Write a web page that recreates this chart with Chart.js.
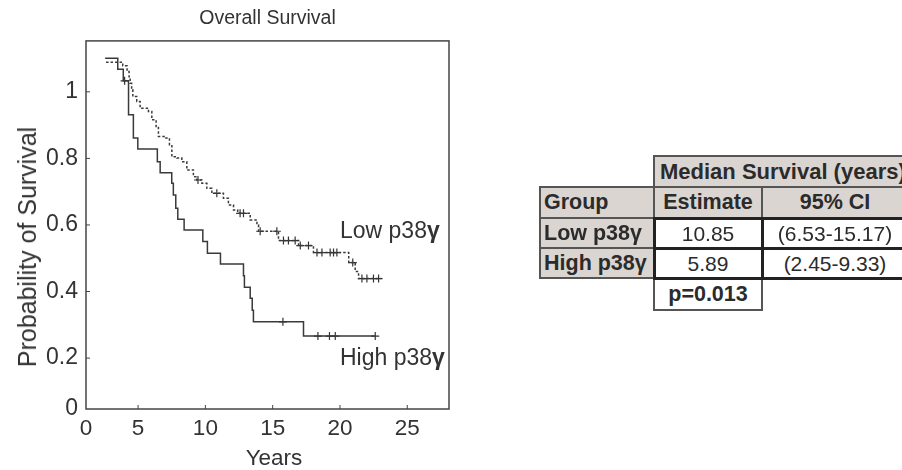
<!DOCTYPE html>
<html>
<head>
<meta charset="utf-8">
<script src="https://cdn.jsdelivr.net/npm/chart.js@4.4.1/dist/chart.umd.min.js"></script>
<style>
  html, body { margin: 0; padding: 0; background: #fff; width: 902px; height: 470px; overflow: hidden; }
  body { position: relative; font-family: "Liberation Sans", Arial, sans-serif; color: #2b2b2b; }
  #wrap { position: absolute; left: 0; top: 0; width: 460px; height: 470px; }
  .lbl { position: absolute; font-size: 23px; line-height: 26px; white-space: nowrap; color: #333; }
  .ytitle { position: absolute; left: 27px; top: 247px; font-size: 25px; line-height: 28px; white-space: nowrap; color: #333;
            transform: translate(-50%, -50%) rotate(-90deg); }
  .xtitle { position: absolute; left: 274px; top: 458px; font-size: 22.5px; line-height: 26px; white-space: nowrap; color: #333;
            transform: translate(-50%, -50%); }
  table.ms { position: absolute; left: 539px; top: 155px; width: 374px; border-collapse: collapse; table-layout: fixed; font-size: 21px; }
  table.ms td { padding: 0 3px; white-space: nowrap; overflow: hidden; border: 2px solid #555; line-height: 25px; }
  table.ms td.g { background: #dbd5d1; font-weight: bold; font-size: 21.5px; }
  table.ms td.none { border: none; background: transparent; }
  table.ms td.c { text-align: center; }
  table.ms td.d { background: #fff; border: 3px solid #222; text-align: center; }
  table.ms td.p { background: #fff; font-weight: bold; font-size: 21.5px; text-align: center; border: 2px solid #555; }
</style>
</head>
<body>
<div id="wrap"><canvas id="km" width="460" height="470"></canvas></div>

<div class="ytitle">Probability of Survival</div>
<div class="xtitle">Years</div>
<div class="lbl" style="left:340px; top:217px;">Low p38<b>γ</b></div>
<div class="lbl" style="left:340px; top:344px;">High p38<b>γ</b></div>

<table class="ms">
  <colgroup><col style="width:114px"><col style="width:108px"><col style="width:152px"></colgroup>
  <tr style="height:31px"><td class="none"></td><td class="g" colspan="2" style="padding-left:5px; font-size:22px">Median Survival (years)</td></tr>
  <tr style="height:31px"><td class="g">Group</td><td class="g c">Estimate</td><td class="g c" style="padding-right:9px">95% CI</td></tr>
  <tr style="height:30px"><td class="g">Low p38γ</td><td class="d">10.85</td><td class="d" style="padding-right:9px">(6.53-15.17)</td></tr>
  <tr style="height:30px"><td class="g">High p38γ</td><td class="d">5.89</td><td class="d" style="padding-right:9px">(2.45-9.33)</td></tr>
  <tr style="height:32px"><td class="none"></td><td class="p">p=0.013</td><td class="none"></td></tr>
</table>

<script>
// ---- Data (Kaplan-Meier step curves) ----
const highTimes = [2.55, 3.49, 3.90, 4.29, 4.65, 4.98, 6.43, 6.64, 7.50, 7.62, 7.80, 7.95, 8.42, 9.81, 10.15, 11.12, 12.83, 12.90, 13.33, 13.48, 13.57, 17.29, 22.62];
const highSurv  = [1.101, 1.068, 1.033, 0.931, 0.861, 0.828, 0.790, 0.757, 0.725, 0.690, 0.650, 0.617, 0.585, 0.550, 0.515, 0.483, 0.447, 0.413, 0.380, 0.344, 0.309, 0.266, 0.266];
const highCensorTimes = [4.0, 15.76, 18.36, 19.22, 19.65, 22.62];
const highCensorSurv  = [1.033, 0.309, 0.266, 0.266, 0.266, 0.266];

const lowTimes = [2.62, 3.86, 4.18, 4.33, 4.41, 4.52, 4.61, 4.90, 5.15, 5.77, 6.02, 6.34, 6.51, 7.01, 7.33, 7.51, 7.88, 8.25, 8.62, 9.11, 9.36, 9.74, 10.11, 10.48, 11.34, 11.71, 12.09, 12.40, 13.33, 13.83, 13.95, 15.43, 16.92, 18.03, 20.65, 21.13, 21.38, 23.07];
const lowSurv  = [1.089, 1.078, 1.061, 1.045, 1.026, 1.006, 0.986, 0.971, 0.951, 0.941, 0.916, 0.896, 0.866, 0.861, 0.841, 0.805, 0.801, 0.790, 0.765, 0.745, 0.735, 0.725, 0.710, 0.695, 0.680, 0.660, 0.645, 0.635, 0.615, 0.600, 0.581, 0.553, 0.538, 0.517, 0.487, 0.460, 0.439, 0.439];
const lowCensorTimes = [9.45, 10.85, 12.58, 12.83, 14.07, 15.31, 15.80, 16.17, 16.67, 17.05, 17.66, 18.29, 18.66, 19.27, 19.52, 19.77, 20.95, 21.63, 22.00, 22.49, 22.87];
const lowCensorSurv  = [0.735, 0.695, 0.635, 0.635, 0.581, 0.581, 0.553, 0.553, 0.553, 0.538, 0.538, 0.517, 0.517, 0.517, 0.517, 0.517, 0.487, 0.439, 0.439, 0.439, 0.439];

const xTickValues = [5, 10, 15, 20, 25];
const yTickValues = [0.2, 0.4, 0.6, 0.8, 1];
const xRange = [1.13, 28.1];
const yRange = [0.047, 1.153];

const pts = (xs, ys) => xs.map((x, i) => ({ x: x, y: ys[i] }));
const FONT = '"Liberation Sans", Arial, sans-serif';

const frame = {
  id: 'frame',
  afterDraw(chart) {
    const { ctx, chartArea: a, scales } = chart;
    ctx.save();
    ctx.strokeStyle = '#444';
    ctx.lineWidth = 1.5;
    ctx.strokeRect(a.left, a.top, a.right - a.left, a.bottom - a.top);
    ctx.lineWidth = 1;
    ctx.beginPath();
    xTickValues.forEach(v => { const px = scales.x.getPixelForValue(v); ctx.moveTo(px, a.bottom); ctx.lineTo(px, a.bottom - 4); });
    yTickValues.forEach(v => { const py = scales.y.getPixelForValue(v); ctx.moveTo(a.left, py); ctx.lineTo(a.left + 4, py); });
    ctx.stroke();
    ctx.restore();
  }
};

new Chart(document.getElementById('km'), {
  type: 'scatter',
  data: {
    datasets: [
      { label: 'High p38γ', data: pts(highTimes, highSurv), showLine: true, stepped: true, borderColor: '#3a3a3a', borderWidth: 1.5, pointRadius: 0, fill: false },
      { label: 'Low p38γ', data: pts(lowTimes, lowSurv), showLine: true, stepped: true, borderColor: '#3a3a3a', borderWidth: 1.5, borderDash: [2.5, 2], pointRadius: 0, fill: false },
      { label: 'High censored', data: pts(highCensorTimes, highCensorSurv), showLine: false, pointStyle: 'cross', pointRadius: 4, borderColor: '#333', borderWidth: 1.2 },
      { label: 'Low censored', data: pts(lowCensorTimes, lowCensorSurv), showLine: false, pointStyle: 'cross', pointRadius: 4, borderColor: '#333', borderWidth: 1.2 }
    ]
  },
  options: {
    responsive: false,
    animation: false,
    devicePixelRatio: 1,
    layout: { padding: { left: 0, right: 11, top: 0, bottom: 0 } },
    plugins: {
      legend: { display: false },
      tooltip: { enabled: false },
      title: { display: true, text: 'Overall Survival', fullSize: false, color: '#333', font: { family: FONT, size: 19.5, weight: 'normal' }, padding: { top: 7, bottom: 10.5 } }
    },
    scales: {
      x: {
        type: 'linear', min: xRange[0], max: xRange[1],
        afterBuildTicks: s => { s.ticks = [{ value: xRange[0] }].concat(xTickValues.map(v => ({ value: v }))); },
        afterFit: s => { s.height = 61; },
        grid: { display: false, drawTicks: false },
        border: { display: false },
        ticks: { autoSkip: false, maxRotation: 0, padding: 6, color: '#333', font: { family: FONT, size: 22.5 },
          callback: v => (v === xRange[0] ? '0' : String(v)) },
        title: { display: false }
      },
      y: {
        type: 'linear', min: yRange[0], max: yRange[1],
        afterBuildTicks: s => { s.ticks = [{ value: yRange[0] }].concat(yTickValues.map(v => ({ value: v }))); },
        afterFit: s => { s.width = 86; },
        grid: { display: false, drawTicks: false },
        border: { display: false },
        ticks: { autoSkip: false, padding: 8, color: '#333', font: { family: FONT, size: 23 },
          callback: v => (v === yRange[0] ? '0' : String(v)) },
        title: { display: false }
      }
    }
  },
  plugins: [frame]
});
</script>
</body>
</html>
